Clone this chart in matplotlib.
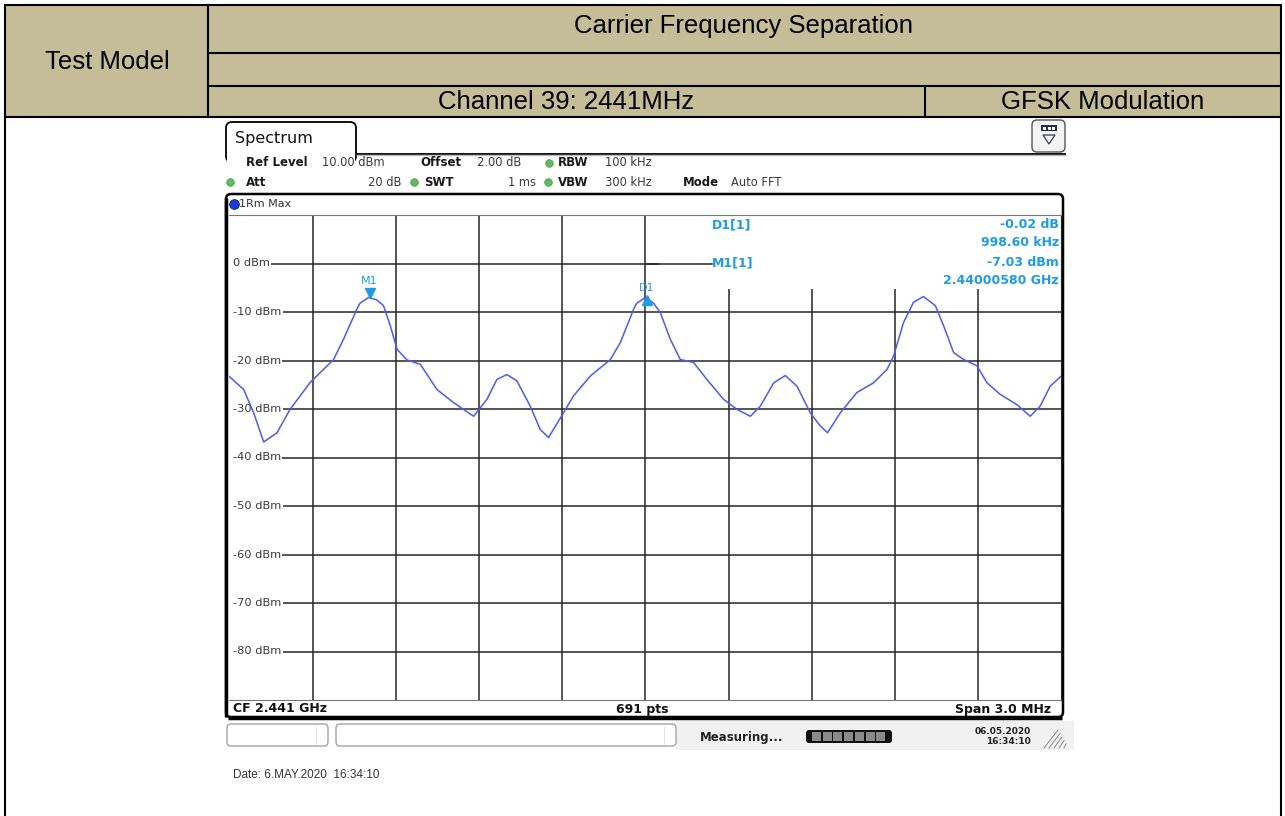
import numpy as np
import matplotlib.pyplot as plt
from matplotlib.patches import FancyBboxPatch, Rectangle, Polygon

plt.rcParams['font.family'] = 'DejaVu Sans'

# trace: offset from CF (MHz) and level (dBm)
freq_mhz = [-1.500, -1.448, -1.412, -1.376, -1.328, -1.280, -1.208, -1.124, -1.088, -1.040,
            -1.029, -0.998, -0.968, -0.944, -0.919, -0.895, -0.859, -0.811, -0.751, -0.691,
            -0.619, -0.571, -0.535, -0.499, -0.463, -0.415, -0.379, -0.349, -0.295, -0.259,
            -0.198, -0.126, -0.090, -0.042, -0.031, 0.000, 0.030, 0.054, 0.090, 0.126,
            0.174, 0.222, 0.282, 0.331, 0.379, 0.415, 0.463, 0.505, 0.547, 0.595,
            0.631, 0.657, 0.703, 0.763, 0.823, 0.872, 0.895, 0.931, 0.967, 1.003,
            1.046, 1.076, 1.112, 1.148, 1.196, 1.232, 1.280, 1.340, 1.388, 1.424,
            1.460, 1.500]
level_dbm = [-23.3, -26.0, -30.8, -36.8, -34.9, -30.0, -24.5, -19.8, -15.6, -9.4,
             -8.2, -7.0, -7.5, -8.7, -12.9, -17.7, -19.9, -20.8, -26.0, -28.7,
             -31.5, -28.0, -23.9, -22.9, -24.2, -29.4, -34.2, -35.9, -30.8, -27.3,
             -23.2, -19.8, -16.3, -9.4, -8.2, -7.0, -8.2, -10.1, -15.6, -19.8,
             -20.4, -23.9, -28.0, -30.1, -31.5, -29.4, -24.6, -23.1, -25.3, -30.8,
             -33.5, -34.9, -30.8, -26.6, -24.6, -21.8, -19.1, -12.2, -8.0, -6.8,
             -8.7, -12.9, -18.4, -19.8, -21.1, -24.6, -27.0, -29.1, -31.5, -29.4,
             -25.3, -23.2]

# markers
m1_freq, m1_level = -0.994, -7.03
d1_freq, d1_level = 0.0046, -7.05

y_levels = [0, -10, -20, -30, -40, -50, -60, -70, -80]

header_title = "Carrier Frequency Separation"
channel_text = "Channel 39: 2441MHz"
mod_text = "GFSK Modulation"

tan = '#c4bd97'
mk_blue = '#1f9be3'
trace_blue = '#4b5cf0'
W, H = 1285, 816

fig = plt.figure(figsize=(W / 100, H / 100), dpi=100)

# background axes in pixel coordinates for table and screen chrome
bg = fig.add_axes([0, 0, 1, 1])
bg.set_xlim(0, W)
bg.set_ylim(H, 0)
bg.axis('off')


def hline(y, x0, x1, lw=1.5, c='black'):
    bg.plot([x0, x1], [y, y], color=c, lw=lw, solid_capstyle='butt')


def vline(x, y0, y1, lw=1.5, c='black'):
    bg.plot([x, x], [y0, y1], color=c, lw=lw, solid_capstyle='butt')


# ---- report table header ----
bg.add_patch(Rectangle((5, 5), 1276, 111.5, fc=tan, ec='none'))
hline(5, 4, 1282)
hline(52.5, 208, 1281)
hline(86, 208, 1281)
hline(116.5, 4, 1282)
vline(5, 5, H)
vline(1281, 5, H)
vline(208, 5, 116.5)
vline(925, 86, 116.5)
tfont = dict(family='Liberation Sans', fontsize=18.5, color='black', va='center', ha='center')
bg.text(107, 62, "Test Model", **tfont)
bg.text(744, 26, header_title, **tfont)
bg.text(566, 102, channel_text, **tfont)
bg.text(1103, 102, mod_text, **tfont)

# ---- analyser screen chrome ----
tab = FancyBboxPatch((226, 122), 130, 40, boxstyle='round,pad=0,rounding_size=6',
                     fc='white', ec='black', lw=1.3)
bg.add_patch(tab)
bg.add_patch(Rectangle((227, 154), 128, 12, fc='white', ec='none', zorder=3))
hline(153.5, 356, 1066, lw=1.3)
hline(155, 356, 1066, lw=1.0, c='#bbbbbb')
bg.text(235, 138, "Spectrum", fontsize=11.5, color='#111111', va='center')

icon = FancyBboxPatch((1032, 120), 33, 32, boxstyle='round,pad=0,rounding_size=5',
                      fc='#f4f4f4', ec='#555555', lw=1.0)
bg.add_patch(icon)
bg.add_patch(Rectangle((1041, 125), 16, 6, fc='#2a2a4a', ec='none'))
for sx in (1043, 1047.5, 1052):
    bg.add_patch(Rectangle((sx, 126.5), 3, 3, fc='white', ec='none'))
bg.add_patch(Polygon([[1043, 135], [1055, 135], [1049, 144]], closed=True,
                     fc='none', ec='#333366', lw=0.9))

bold = dict(fontsize=8.5, fontweight='bold', color='#1a1a1a', va='center')
norm = dict(fontsize=8.3, color='#3a3a3a', va='center')
green = '#62b962'
r1, r2 = 163, 182
bg.text(246, r1, "Ref Level", **bold)
bg.text(322, r1, "10.00 dBm", **norm)
bg.text(420, r1, "Offset", **bold)
bg.text(477, r1, "2.00 dB", **norm)
bg.text(558, r1, "RBW", **bold)
bg.text(605, r1, "100 kHz", **norm)
bg.text(246, r2, "Att", **bold)
bg.text(402, r2, "20 dB", ha='right', **norm)
bg.text(424, r2, "SWT", **bold)
bg.text(536, r2, "1 ms", ha='right', **norm)
bg.text(558, r2, "VBW", **bold)
bg.text(605, r2, "300 kHz", **norm)
bg.text(683, r2, "Mode", **bold)
bg.text(731, r2, "Auto FFT", **norm)
bg.plot([549, 230, 414, 548], [r1, r2, r2, r2], 'o', ms=5.5, color=green, mec='#4a9a4a', mew=0.5)

# outer frame of the trace window
frame = FancyBboxPatch((226, 194), 837, 523, boxstyle='round,pad=0,rounding_size=5',
                       fc='white', ec='black', lw=1.8)
bg.add_patch(frame)
vline(225.5, 198, 717, lw=2.5)
hline(717.5, 228, 1062, lw=2.5)
bg.plot([234], [204], 'o', ms=7, color='#1f3bd6', mec='#0a1a80', mew=0.6)
bg.text(239, 204, "1Rm Max", fontsize=8, color='#333333', va='center')
bg.text(233, 709, "CF 2.441 GHz", fontsize=9, fontweight='bold', color='#111111', va='center')
bg.text(642, 709, "691 pts", fontsize=9, fontweight='bold', color='#111111', va='center', ha='center')
bg.text(1051, 709, "Span 3.0 MHz", fontsize=9, fontweight='bold', color='#111111', va='center', ha='right')

# status bar
bg.add_patch(Rectangle((676, 721), 398, 29, fc='#f1f1f1', ec='none'))
for x0, w in ((227, 101), (336, 340)):
    bg.add_patch(FancyBboxPatch((x0, 724), w, 22, boxstyle='round,pad=0,rounding_size=4',
                                fc='white', ec='#9a9a9a', lw=0.9))
vline(316, 726, 744, lw=0.6, c='#dddddd')
vline(664, 726, 744, lw=0.6, c='#dddddd')
bg.text(700, 737, "Measuring...", fontsize=8.5, fontweight='bold', color='#222222', va='center')
bg.add_patch(FancyBboxPatch((806, 730), 86, 13, boxstyle='round,pad=0,rounding_size=3',
                            fc='#111111', ec='none'))
for i in range(7):
    bg.add_patch(Rectangle((812 + i * 10.7, 732), 9, 9, fc='#8a8a8a', ec='none'))
bg.text(1031, 731, "06.05.2020", fontsize=6.5, fontweight='bold', color='#222222', va='center', ha='right')
bg.text(1031, 742, "16:34:10", fontsize=6.5, fontweight='bold', color='#222222', va='center', ha='right')
for k in range(5):
    bg.plot([1044 + k * 5, 1058 + k * 2], [748, 730 + k * 3.5], color='#888888', lw=0.7)

bg.text(233, 775, "Date: 6.MAY.2020  16:34:10", family='Liberation Sans', fontsize=8.5,
        color='#333333', va='center')

# ---- trace window ----
left, right, top, bottom = 229.3, 1061.3, 215, 700
ax = fig.add_axes([left / W, 1 - bottom / H, (right - left) / W, (bottom - top) / H])
ax.set_xlim(-1.5, 1.5)
ax.set_ylim(-90, 10)
ax.set_xticks(np.linspace(-1.2, 1.2, 9))
ax.set_yticks(np.arange(-80, 1, 10))
ax.tick_params(length=0, labelbottom=False, labelleft=False)
ax.set_axisbelow(True)
ax.grid(True, color='#262626', lw=1.1)
ax.spines['left'].set_visible(False)
ax.spines['right'].set_color('#262626')
ax.spines['top'].set_color('#777777')
ax.spines['bottom'].set_color('#777777')

# marker readout area hides the grid in the upper right
ax.add_patch(Rectangle((0.05, -5.3), 1.45, 15.3, fc='white', ec='none', zorder=1))
ax.plot([0.0, 0.2405], [0, 0], color='#262626', lw=1.1, zorder=1.2)
# level labels sit at the left edge, grid lines start right after them
ax.add_patch(Rectangle((-1.5, -90), 0.016, 100, fc='white', ec='none', zorder=1.5))

for lv in y_levels:
    ax.text(-1.485, lv, f"{lv} dBm", fontsize=8.2, color='#3a3a3a', va='center', ha='left',
            zorder=2, bbox=dict(fc='white', ec='none', pad=0.6))

ax.plot(freq_mhz, level_dbm, color=trace_blue, lw=1.1, zorder=3)

ax.plot([m1_freq], [m1_level + 0.9], marker='v', ms=7, color=mk_blue, zorder=4)
ax.text(m1_freq, m1_level + 3.4, "M1", fontsize=8, color=mk_blue, ha='center', va='center', zorder=4)
ax.plot([d1_freq], [d1_level - 0.4], marker='^', ms=7, color=mk_blue, zorder=4)
ax.text(d1_freq, d1_level + 1.9, "D1", fontsize=8, color=mk_blue, ha='center', va='center', zorder=4)

mk = dict(fontsize=9, fontweight='bold', color=mk_blue, va='center', transform=bg.transData, zorder=5)
ax.text(712, 225, "D1[1]", **mk)
ax.text(712, 263, "M1[1]", **mk)
ax.text(1059, 225, "-0.02 dB", ha='right', **mk)
ax.text(1059, 242, "998.60 kHz", ha='right', **mk)
ax.text(1059, 263, "-7.03 dBm", ha='right', **mk)
ax.text(1059, 281, "2.44000580 GHz", ha='right', **mk)

fig.savefig('out.png', dpi=100)
